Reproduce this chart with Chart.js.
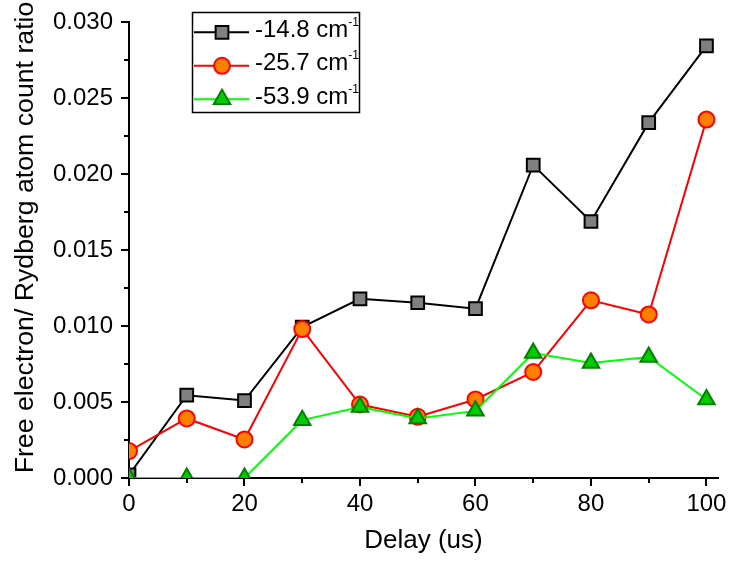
<!DOCTYPE html>
<html>
<head>
<meta charset="utf-8">
<script src="https://cdn.jsdelivr.net/npm/chart.js@4.4.1/dist/chart.umd.min.js"></script>
<style>
  html, body { margin: 0; padding: 0; background: #fff; }
  #wrap { width: 731px; height: 563px; }
</style>
</head>
<body>
<div id="wrap"><canvas id="chart" width="731" height="563"></canvas></div>
<script>
// values
const delays = [0, 10, 20, 30, 40, 50, 60, 70, 80, 90, 100];
const ratio148 = [0.0002, 0.00545, 0.0051, 0.00994, 0.0118, 0.01154, 0.01115, 0.0206, 0.01689, 0.0234, 0.02845];
const ratio257 = [0.00177, 0.00392, 0.00254, 0.00981, 0.00484, 0.00403, 0.00517, 0.00698, 0.0117, 0.01077, 0.0236];
const ratio539 = [0, 0, 0, 0.00381, 0.00468, 0.00392, 0.00442, 0.00823, 0.00757, 0.00797, 0.00517];
const seriesNames = ['-14.8', '-25.7', '-53.9'];
const yTitle = 'Free electron/ Rydberg atom count ratio';

// major + minor ticks; empty label = minor tick
const xTicks = [0, 10, 20, 30, 40, 50, 60, 70, 80, 90, 100];
const xTickLabels = ['0', '', '20', '', '40', '', '60', '', '80', '', '100'];
const yTicks = [0, 0.0025, 0.005, 0.0075, 0.01, 0.0125, 0.015, 0.0175, 0.02, 0.0225, 0.025, 0.0275, 0.03];
const yTickLabels = ['0.000', '', '0.005', '', '0.010', '', '0.015', '', '0.020', '', '0.025', '', '0.030'];

const FONT = "'Liberation Sans', Arial, sans-serif";
Chart.defaults.font.family = FONT;
Chart.defaults.color = '#000';

const toPoints = (arr) => delays.map((d, i) => ({ x: d, y: arr[i] }));

// draw tick marks ourselves so minor ones can be shorter
const axisTicks = {
  id: 'axisTicks',
  afterDraw(chart) {
    const { ctx, scales: { x, y } } = chart;
    ctx.save();
    ctx.strokeStyle = '#000';
    ctx.lineWidth = 2;
    ctx.beginPath();
    xTicks.forEach((v, i) => {
      const len = xTickLabels[i] ? 8 : 5;
      const px = Math.round(x.getPixelForValue(v));
      ctx.moveTo(px, x.top);
      ctx.lineTo(px, x.top + len);
    });
    yTicks.forEach((v, i) => {
      const len = yTickLabels[i] ? 8 : 5;
      const py = Math.round(y.getPixelForValue(v));
      ctx.moveTo(y.right, py);
      ctx.lineTo(y.right - len, py);
    });
    ctx.stroke();

    // y title sits a little higher than the axis centre in the original
    ctx.translate(33, 237.5);
    ctx.rotate(-Math.PI / 2);
    ctx.font = '26.7px ' + FONT;
    ctx.fillStyle = '#000';
    ctx.textAlign = 'center';
    ctx.textBaseline = 'alphabetic';
    ctx.fillText(yTitle, 0, 0);
    ctx.restore();
  }
};

// legend box with superscript units
const legendBox = {
  id: 'legendBox',
  afterDraw(chart) {
    const ctx = chart.ctx;
    ctx.save();
    ctx.strokeStyle = '#000';
    ctx.lineWidth = 1.5;
    ctx.strokeRect(192.5, 12.5, 167, 100);
    chart.data.datasets.forEach((ds, i) => {
      const y = 32.3 + i * 33.5;
      ctx.strokeStyle = ds.borderColor;
      ctx.lineWidth = ds.borderWidth;
      ctx.beginPath();
      ctx.moveTo(194, y);
      ctx.lineTo(249, y);
      ctx.stroke();
      ctx.fillStyle = ds.pointBackgroundColor;
      ctx.strokeStyle = ds.pointBorderColor;
      ctx.lineWidth = ds.pointBorderWidth;
      Chart.helpers.drawPoint(ctx, {
        pointStyle: ds.pointStyle, radius: ds.pointRadius,
        borderWidth: ds.pointBorderWidth, rotation: 0
      }, 222, y);
      ctx.fillStyle = '#000';
      ctx.textBaseline = 'middle';
      ctx.font = '24px ' + FONT;
      const main = ds.label + ' cm';
      ctx.fillText(main, 255, y - 2);
      const w = ctx.measureText(main).width;
      ctx.font = '12px ' + FONT;
      ctx.fillText('-1', 255 + w, y - 10);
    });
    ctx.restore();
  }
};

new Chart(document.getElementById('chart'), {
  type: 'line',
  data: {
    datasets: [
      {
        label: seriesNames[0], data: toPoints(ratio148), order: 3,
        borderColor: '#000000', borderWidth: 2,
        pointStyle: 'rect', pointRadius: 9, pointHoverRadius: 9,
        pointBackgroundColor: '#808080', pointBorderColor: '#000000', pointBorderWidth: 2
      },
      {
        label: seriesNames[1], data: toPoints(ratio257), order: 2,
        borderColor: '#ff0000', borderWidth: 2,
        pointStyle: 'circle', pointRadius: 8, pointHoverRadius: 8,
        pointBackgroundColor: '#ff8000', pointBorderColor: '#ff0000', pointBorderWidth: 2
      },
      {
        label: seriesNames[2], data: toPoints(ratio539), order: 1,
        borderColor: '#00ff00', borderWidth: 2,
        pointStyle: 'triangle', pointRadius: 9.5, pointHoverRadius: 9.5,
        pointBackgroundColor: '#00cc00', pointBorderColor: '#007f00', pointBorderWidth: 2
      }
    ]
  },
  options: {
    responsive: false,
    animation: false,
    events: [],
    layout: { padding: { top: 21, right: 13, left: 0, bottom: 0 } },
    elements: { line: { tension: 0 } },
    plugins: { legend: { display: false }, tooltip: { enabled: false } },
    scales: {
      x: {
        type: 'linear', min: 0, max: 102,
        afterBuildTicks: (s) => { s.ticks = xTicks.map(v => ({ value: v })); },
        afterFit: (s) => { s.height = 85; },
        ticks: {
          autoSkip: false, maxRotation: 0, padding: 4,
          font: { size: 24 },
          callback: (v, i) => xTickLabels[i]
        },
        grid: { drawOnChartArea: false, tickLength: 8, tickColor: 'rgba(0,0,0,0)' },
        border: { color: '#000', width: 2 },
        title: { display: true, text: 'Delay (us)', font: { size: 26 }, padding: { top: 7, bottom: 7 } }
      },
      y: {
        type: 'linear', min: 0, max: 0.03,
        afterBuildTicks: (s) => { s.ticks = yTicks.map(v => ({ value: v })); },
        afterFit: (s) => { s.width = 129; },
        ticks: {
          autoSkip: false, padding: 8,
          font: { size: 24 },
          callback: (v, i) => yTickLabels[i]
        },
        grid: { drawOnChartArea: false, tickLength: 8, tickColor: 'rgba(0,0,0,0)' },
        border: { color: '#000', width: 2 },
        title: { display: false }
      }
    }
  },
  plugins: [axisTicks, legendBox]
});
</script>
</body>
</html>
